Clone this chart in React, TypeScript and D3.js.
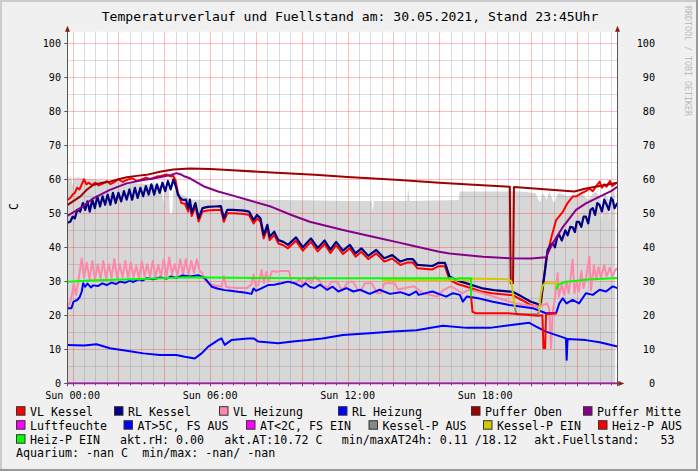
import React from 'react';
import * as d3 from 'd3';

type P = [number, number];

// ---------- tick labels ----------
const timeTicks = [0, 6, 12, 18];
const timeTickLabels = ['Sun 00:00', 'Sun 06:00', 'Sun 12:00', 'Sun 18:00'];
const valueTicks = [0, 10, 20, 30, 40, 50, 60, 70, 80, 90, 100];

// ---------- series (hour, °C) ----------
const fuellstand: P[] = [
  [-0.23, 58], [-0.18, 61], [-0.12, 60], [-0.08, 61.3], [0.0, 58], [0.05, 60.5], [0.3, 60.5], [0.6, 60], [0.9, 60],
  [1.5, 59.5], [2.5, 59], [3.5, 58.5], [3.9, 58], [3.95, 53], [4.05, 58], [4.2, 57.5], [4.25, 50], [4.35, 50],
  [4.4, 57], [4.6, 56], [4.9, 55], [5.2, 54], [6, 54], [8, 54], [10, 53.8], [12, 53.6], [13.05, 53.6], [13.1, 50.5],
  [13.15, 53.6], [14.6, 53.6], [14.65, 57.4], [14.7, 53.6], [16.85, 53.9], [16.9, 56.4], [19.5, 56.4], [20.2, 56],
  [20.4, 53], [20.5, 56], [20.7, 54], [20.8, 56.5], [21.0, 53], [21.2, 56], [21.6, 55], [22.2, 56], [22.5, 54],
  [22.8, 56.5], [23.0, 55], [23.1, 48], [23.2, 56], [23.4, 54], [23.45, 47], [23.5, 56], [23.65, 57], [23.68, 53],
];

const vlKessel: P[] = [
  [-0.23, 53.9], [-0.1, 54.5], [0.0, 55.5], [0.1, 56], [0.2, 57.5], [0.3, 57], [0.4, 58.5], [0.5, 60], [0.6, 58.5],
  [0.7, 59], [0.84, 58.3], [1.0, 59], [1.15, 58.2], [1.34, 58.8], [1.5, 59.5], [1.65, 58.6], [1.85, 59.3], [2.0, 60],
  [2.2, 59.2], [2.36, 59.8], [2.6, 60.3], [2.8, 59.5], [2.94, 59.8], [3.2, 60.5], [3.4, 60], [3.67, 60.8], [3.85, 61],
  [4.1, 61.4], [4.3, 60.8], [4.4, 61], [4.5, 59.5], [4.6, 56], [4.75, 53], [4.9, 52.8], [5.05, 50.5], [5.12, 53],
  [5.2, 49.2], [5.36, 52], [5.5, 47.6], [5.67, 50.5], [5.9, 50.8], [6.2, 51], [6.47, 51], [6.55, 49], [6.6, 47.5],
  [6.75, 50], [7.0, 50], [7.5, 49.8], [7.7, 49.5], [7.9, 47], [8.05, 48.5], [8.2, 47.5], [8.34, 42.6], [8.5, 45.6],
  [8.6, 42.1], [8.8, 43.6], [8.98, 41.1], [9.2, 40.6], [9.4, 39.7], [9.75, 41.9], [10.05, 39], [10.4, 41.6],
  [10.7, 38.8], [11.0, 41], [11.25, 38.3], [11.5, 40.6], [11.8, 38], [12.1, 39.7], [12.35, 37.2], [12.6, 38.7],
  [12.9, 36.5], [13.25, 38.2], [13.6, 35.8], [13.95, 36.7], [14.3, 34.8], [14.6, 35.5], [14.85, 35.5], [15.05, 33.8],
  [15.7, 33.5], [15.95, 34.4], [16.25, 34.4], [16.45, 30.4], [16.8, 29.2], [17.2, 28.4], [17.9, 26.9], [18.5, 26.3],
  [19.2, 25.9], [19.6, 24.5], [20.0, 23], [20.3, 22.5], [20.45, 24], [20.55, 30], [20.66, 36.3], [20.9, 43.1],
  [21.1, 48], [21.4, 50.5], [21.6, 53], [21.82, 54.9], [22.0, 55], [22.2, 55.9], [22.4, 56.5], [22.55, 57.3],
  [22.7, 56.5], [22.85, 58], [23.0, 59.3], [23.1, 57.5], [23.2, 58.5], [23.3, 57.8], [23.45, 59.5], [23.55, 58],
  [23.7, 58.8], [23.77, 59],
];

const rlKessel: P[] = [
  [-0.23, 47.2], [-0.1, 47.5], [0.0, 49], [0.1, 48.5], [0.2, 51], [0.33, 50.5], [0.45, 53], [0.55, 51], [0.65, 53.5],
  [0.75, 50.5], [0.86, 54], [0.97, 51.5], [1.08, 55], [1.2, 52], [1.31, 55], [1.42, 52.5], [1.53, 55.5], [1.65, 52.5],
  [1.76, 56], [1.88, 53], [2.0, 56], [2.12, 53.5], [2.24, 56.5], [2.36, 54], [2.48, 57], [2.6, 54], [2.72, 57.5],
  [2.84, 54.5], [2.96, 57.5], [3.08, 55], [3.2, 58], [3.32, 55.5], [3.44, 58.5], [3.56, 55.5], [3.68, 58.5], [3.8, 56],
  [3.92, 59], [4.04, 56.5], [4.16, 59.5], [4.28, 57], [4.4, 60], [4.5, 58], [4.6, 55.4], [4.7, 54.5], [4.82, 53.9],
  [4.95, 54], [5.05, 51.5], [5.12, 54], [5.2, 50.1], [5.36, 53], [5.5, 48.6], [5.67, 51.5], [5.9, 51.9], [6.2, 52],
  [6.47, 52.1], [6.55, 50], [6.6, 48.5], [6.75, 51], [7.0, 51], [7.5, 50.8], [7.7, 50.5], [7.9, 48], [8.05, 49.5],
  [8.2, 48.5], [8.34, 43.6], [8.5, 46.6], [8.6, 43.1], [8.8, 44.6], [8.98, 42.1], [9.2, 41.6], [9.4, 40.7],
  [9.75, 42.9], [10.05, 40], [10.4, 42.6], [10.7, 39.8], [11.0, 42], [11.25, 39.3], [11.5, 41.6], [11.8, 39],
  [12.1, 40.7], [12.35, 38.2], [12.6, 39.7], [12.9, 37.5], [13.25, 39.2], [13.6, 36.8], [13.95, 37.7], [14.3, 35.8],
  [14.6, 36.5], [14.85, 36.5], [15.05, 34.8], [15.7, 34.5], [15.95, 35.4], [16.25, 35.4], [16.45, 31.4], [16.8, 30.2],
  [17.2, 29.4], [17.9, 27.9], [18.5, 27.3], [19.2, 26.9], [19.6, 25.5], [20.0, 24], [20.3, 23.3], [20.4, 22.8],
  [20.45, 25.3], [20.6, 32.3], [20.73, 39.2], [20.85, 40.5], [20.95, 41.2], [21.05, 40], [21.15, 43], [21.24, 43.6],
  [21.35, 42], [21.5, 45], [21.6, 43.5], [21.72, 46], [21.82, 45.9], [21.92, 44.5], [22.0, 47.5], [22.1, 47.5],
  [22.2, 46], [22.3, 49], [22.4, 49], [22.5, 47], [22.6, 51], [22.7, 51.5], [22.8, 49.5], [22.9, 53], [23.0, 52.4],
  [23.1, 50.5], [23.2, 54], [23.28, 52.9], [23.4, 51], [23.5, 54.5], [23.57, 53.9], [23.65, 51.5], [23.77, 53],
];

const vlHeizung: P[] = [
  [-0.23, 22.5], [-0.1, 24], [0.0, 27], [0.05, 29.4], [0.15, 26], [0.25, 30], [0.4, 36.8], [0.5, 31], [0.62, 35.5],
  [0.74, 30.5], [0.86, 36], [0.98, 30.5], [1.1, 35], [1.22, 30.8], [1.34, 36], [1.46, 31], [1.58, 35], [1.7, 31],
  [1.82, 36.5], [1.94, 31], [2.06, 35], [2.18, 31.2], [2.3, 36], [2.42, 31], [2.54, 35.5], [2.66, 31.2], [2.78, 34.5],
  [2.9, 31], [3.02, 36], [3.14, 31.5], [3.26, 35], [3.38, 31.2], [3.5, 36], [3.62, 31.5], [3.74, 34.8], [3.86, 31.5],
  [3.98, 36.5], [4.1, 31.5], [4.22, 37], [4.34, 32], [4.46, 35], [4.58, 31.8], [4.7, 36.5], [4.82, 32], [4.94, 36.5],
  [5.06, 32], [5.18, 36], [5.3, 32.5], [5.42, 36.5], [5.55, 33], [5.65, 32.5], [5.8, 30], [6.1, 28.9], [6.5, 28.4],
  [6.6, 31.5], [6.7, 28.4], [6.9, 28.2], [7.2, 28], [7.6, 28], [7.8, 29], [7.9, 32], [8.0, 28.5], [8.1, 29],
  [8.25, 33.3], [8.35, 29.5], [8.45, 32.8], [8.55, 30], [8.7, 33], [8.9, 32.8], [9.1, 33], [9.45, 33], [9.55, 29.6],
  [9.75, 29.3], [9.9, 30.8], [10.05, 29], [10.3, 31], [10.4, 29.4], [10.55, 31.4], [10.75, 30.4], [10.95, 28.4],
  [11.15, 28.4], [11.3, 29.9], [11.55, 29.9], [11.7, 27.9], [11.85, 27.9], [12.0, 29.9], [12.25, 29.9], [12.45, 27.4],
  [12.6, 27.4], [12.75, 29.4], [13.05, 29.4], [13.3, 26.5], [13.45, 26.5], [13.6, 29.4], [14.05, 29.4], [14.2, 27.6],
  [14.5, 28], [14.9, 28.5], [15.3, 26.5], [15.9, 25.5], [16.2, 27.5], [16.5, 28.5], [16.7, 27.8], [17.0, 26.5],
  [17.3, 27.5], [17.9, 26.5], [18.6, 25], [19.35, 23.5], [20.37, 22.5], [20.7, 23.5], [20.8, 22], [20.88, 10.3],
  [20.95, 21], [21.05, 25], [21.17, 32.4], [21.22, 25.5], [21.35, 29], [21.45, 26], [21.55, 30], [21.65, 26.5],
  [21.82, 36.3], [21.9, 26.5], [22.0, 30], [22.1, 27], [22.2, 33], [22.3, 28], [22.4, 31], [22.55, 37.2], [22.62, 27.3],
  [22.75, 34.8], [22.85, 30.5], [22.95, 34.2], [23.05, 31], [23.2, 34.8], [23.3, 31.5], [23.45, 34], [23.55, 31.5],
  [23.7, 33.5], [23.77, 33.8],
];

const rlHeizung: P[] = [
  [-0.23, 22.1], [-0.05, 22.1], [0.04, 24], [0.2, 24.5], [0.31, 25.3], [0.4, 27], [0.46, 29.4], [0.55, 28.4],
  [0.65, 29.3], [0.8, 28.2], [0.9, 28.8], [1.1, 28.6], [1.3, 29.4], [1.49, 28.9], [1.7, 29.6], [1.9, 29.2], [2.07, 29.9],
  [2.3, 29.6], [2.5, 30.2], [2.65, 29.8], [2.9, 30.6], [3.05, 30.2], [3.23, 30.9], [3.5, 30.6], [3.81, 31.1], [4.1, 30.8],
  [4.3, 31.4], [4.53, 31], [4.8, 31.7], [5.12, 31.4], [5.48, 31.8], [5.77, 30.9], [6.07, 28.4], [6.35, 27.8],
  [6.64, 27.4], [6.9, 27.2], [7.22, 26.9], [7.5, 26.7], [7.81, 26.3], [7.9, 27.9], [8.0, 27.2], [8.24, 27.9],
  [8.53, 28.9], [8.8, 29], [9.11, 29.4], [9.4, 29.9], [9.7, 29.4], [9.99, 28.4], [10.17, 29.4], [10.35, 28.4],
  [10.55, 28], [10.8, 29], [11.1, 27.5], [11.35, 28.4], [11.6, 27], [11.95, 28], [12.25, 27], [12.55, 27.5],
  [12.96, 26.3], [13.4, 27.5], [13.85, 26.3], [14.3, 26.8], [14.7, 25.9], [15.0, 27], [15.1, 26], [15.7, 27],
  [16.3, 25.5], [16.6, 26.5], [16.9, 26], [17.03, 24], [17.2, 25.5], [17.7, 25], [18.34, 24], [19.06, 23],
  [20.08, 22.1], [20.66, 20.6], [21.1, 20.6], [21.24, 23.5], [21.39, 25], [21.55, 23.5], [21.82, 24.5], [22.1, 23.5],
  [22.4, 26.5], [22.7, 26], [23.0, 27.5], [23.28, 27], [23.57, 28.5], [23.77, 28],
];

const pufferOben: P[] = [
  [-0.23, 52.4], [0.33, 54.9], [0.62, 56.9], [0.9, 58.3], [1.3, 59], [1.63, 59.3], [2.0, 60], [2.36, 60.6], [2.8, 61],
  [3.23, 61.3], [3.81, 62.2], [4.39, 62.9], [5.12, 63.2], [6.0, 63], [6.79, 62.7], [8.68, 62], [10.57, 61.3],
  [12.0, 60.7], [14.27, 59.8], [16.0, 59], [17.5, 58.4], [19.08, 57.8], [19.12, 29.4], [19.22, 29.4], [19.26, 57.7],
  [21.9, 56.4], [22.4, 57.3], [23.0, 58], [23.77, 59],
];

const pufferMitte: P[] = [
  [-0.23, 49.2], [0.33, 51.5], [0.9, 54.4], [1.63, 56.9], [2.36, 58.8], [3.09, 59.8], [3.81, 60.6], [4.3, 61.3],
  [4.53, 61.8], [4.7, 61.5], [4.9, 60.8], [5.12, 60.3], [5.77, 57.8], [6.35, 56.4], [7.0, 55.2], [7.66, 53.9],
  [8.68, 51.9], [9.55, 49.5], [10.35, 47.5], [11.8, 45.1], [13.25, 42.9], [14.3, 41.3], [14.7, 40.7], [16.0, 38.7],
  [16.45, 38.2], [17.9, 37.2], [19.06, 36.8], [20.0, 36.7], [20.66, 37.1], [20.95, 41.2], [21.4, 46], [21.97, 51],
  [22.4, 52.9], [23.0, 54.9], [23.5, 56.5], [23.77, 57.8],
];

const luftfeuchte: P[] = [[-0.23, 0], [23.77, 0]];

const atAussen: P[] = [
  [-0.23, 11.3], [0.5, 11.1], [1.05, 11.5], [1.63, 10.3], [2.36, 9.6], [3.09, 8.8], [3.81, 8.3], [4.53, 8.3],
  [4.9, 7.8], [5.33, 7.3], [5.63, 8.8], [5.92, 10.8], [6.35, 12.7], [6.5, 13.2], [6.64, 11.3], [6.93, 12.7],
  [7.66, 13.2], [7.9, 13.2], [8.1, 12.3], [8.97, 11.8], [9.6, 12.3], [10.28, 12.7], [10.9, 13.2], [11.8, 14.2],
  [12.96, 14.7], [13.98, 15.2], [15.0, 15.6], [16.16, 16.9], [17.2, 16.3], [18.2, 16.3], [19.06, 17.1], [19.93, 17.8],
  [20.23, 16.7], [20.66, 15.2], [21.53, 13.2], [21.56, 6.9], [21.6, 13], [22.4, 12.7], [23.0, 12.1], [23.77, 10.8],
];

const kesselPEin1: P[] = [
  [13.5, 30.3], [17.3, 30.4], [17.4, 30.8], [19.0, 30.6], [19.15, 30], [19.22, 26], [19.3, 22.3],
];
const kesselPAus: P[] = [[19.3, 22.3], [19.38, 20.2], [20.3, 20.4], [20.36, 21]];
const kesselPEin2: P[] = [[20.36, 21], [20.42, 25.5], [20.5, 28.5], [20.6, 29.4], [21.1, 29.4], [21.15, 28]];

const heizPAus: P[] = [
  [17.39, 25.5], [17.45, 21], [17.6, 20.6], [19.0, 20.6], [20.3, 19.9], [20.5, 20], [20.55, 10.3], [20.62, 10.3],
  [20.66, 20.3], [21.12, 20.6],
];
const heizPEin1: P[] = [
  [-0.23, 29.9], [1, 30.3], [3, 30.7], [5, 31.2], [8, 31], [11, 30.9], [14, 30.9], [16.6, 30.9], [16.7, 30.4],
  [16.8, 30.9], [17.39, 30.9], [17.39, 25.5],
];
const heizPEin2: P[] = [[21.12, 27.6], [21.18, 29], [21.5, 29.8], [22.5, 30.5], [23.77, 31]];

// ---------- legend ----------
const legendNames = [
  ['VL Kessel', 'RL Kessel', 'VL Heizung', 'RL Heizung', 'Puffer Oben', 'Puffer Mitte'],
  ['Luftfeuchte', 'AT>5C, FS AUS', 'AT<2C, FS EIN', 'Kessel-P AUS', 'Kessel-P EIN', 'Heiz-P AUS'],
  ['Heiz-P EIN'],
];
const legendColors = [
  ['#FF0000', '#000080', '#FF88AA', '#0000FF', '#A00000', '#880088'],
  ['#FF00FF', '#0000FF', '#FF00FF', '#888888', '#CCCC00', '#FF0000'],
  ['#00FF00'],
];
const infoTexts = ['akt.rH: 0.00', 'akt.AT:10.72 C', 'min/maxAT24h: 0.11 /18.12', 'akt.Fuellstand:   53'];
const aquariumText = 'Aquarium: -nan C  min/max: -nan/ -nan';
const titleText = 'Temperaturverlauf und Fuellstand am: 30.05.2021, Stand 23:45Uhr';

// ---------- layout ----------
const W = 698, H = 471;
const PL = 67.3, PR = 617.3, PT = 31.7, PB = 383.3;
const legendBoxX = [
  [16, 114, 219, 338, 471, 583],
  [16, 123.5, 246, 368.5, 483, 598],
  [16],
];
const legendBaseY = [415.7, 429.7, 443.7];
const infoX = [120, 224.3, 341.7, 534.3];
const FONT = '"DejaVu Sans Mono", monospace';

export default function App() {
  const x = d3.scaleLinear().domain([-0.23, 23.77]).range([PL, PR]);
  const y = d3.scaleLinear().domain([0, 103.4]).range([PB, PT]);
  const line = d3.line<P>().x(d => x(d[0])).y(d => y(d[1]));
  const area = d3.area<P>().x(d => x(d[0])).y0(y(0)).y1(d => y(d[1]));

  const minorV = d3.range(0, 23.76, 0.5).filter(t => Math.abs(t % 2) > 0.01);
  const majorV = d3.range(0, 23, 2);
  const minorH = d3.range(5, 101, 10);
  const majorH = d3.range(10, 101, 10);
  const px = (v: number) => Math.round(v) + 0.5;

  const series: { d: P[]; c: string; w: number }[] = [
    { d: vlKessel, c: '#FF0000', w: 2 },
    { d: rlKessel, c: '#000080', w: 2.2 },
    { d: vlHeizung, c: '#FF88AA', w: 2 },
    { d: rlHeizung, c: '#0000FF', w: 2 },
    { d: pufferOben, c: '#A00000', w: 2 },
    { d: pufferMitte, c: '#880088', w: 2 },
    { d: luftfeuchte, c: '#FF00FF', w: 2 },
    { d: atAussen, c: '#0000FF', w: 2 },
    { d: kesselPAus, c: '#888888', w: 2 },
    { d: kesselPEin1, c: '#CCCC00', w: 2 },
    { d: kesselPEin2, c: '#CCCC00', w: 2 },
    { d: heizPAus, c: '#FF0000', w: 2 },
    { d: heizPEin1, c: '#00FF00', w: 2 },
    { d: heizPEin2, c: '#00FF00', w: 2 },
  ];

  const axisColor = '#555555';
  const arrowColor = '#8B1A1A';

  return (
    <svg width={W} height={H} style={{ position: 'absolute', left: 0, top: 0 }} xmlns="http://www.w3.org/2000/svg">
      <rect x={0} y={0} width={W} height={H} fill="#F0F0F0" />
      {/* frame shading */}
      <rect x={0} y={0} width={W} height={2} fill="#CBCBCB" />
      <rect x={0} y={0} width={2} height={H} fill="#CBCBCB" />
      <rect x={0} y={H - 2} width={W} height={2} fill="#999999" />
      <rect x={W - 2} y={0} width={2} height={H} fill="#999999" />

      <text x={350} y={21} textAnchor="middle" fontFamily={FONT} fontSize={13.1} fill="#000">{titleText}</text>
      <text transform={`translate(684.5,6) rotate(90)`} fontFamily={FONT} fontSize={8.3} fill="#BBBBBB">RRDTOOL / TOBI OETIKER</text>

      <rect x={PL} y={PT} width={PR - PL} height={PB - PT} fill="#FFFFFF" />
      <path d={area(fuellstand) || ''} fill="#D7D7D7" />

      {/* grid */}
      {minorV.map(t => (
        <line key={'mv' + t} x1={px(x(t))} x2={px(x(t))} y1={PT} y2={PB} stroke="rgba(128,128,128,0.28)" strokeWidth={1} />
      ))}
      {minorH.map(v => (
        <line key={'mh' + v} x1={PL} x2={PR} y1={px(y(v))} y2={px(y(v))} stroke="rgba(128,128,128,0.28)" strokeWidth={1} />
      ))}
      {majorV.map(t => (
        <line key={'Mv' + t} x1={px(x(t))} x2={px(x(t))} y1={PT} y2={PB} stroke="rgba(255,0,0,0.25)" strokeWidth={1} />
      ))}
      {majorH.map(v => (
        <line key={'Mh' + v} x1={PL} x2={PR} y1={px(y(v))} y2={px(y(v))} stroke="rgba(255,0,0,0.25)" strokeWidth={1} />
      ))}

      {/* data lines */}
      {series.map((s, i) => (
        <path key={'s' + i} d={line(s.d) || ''} fill="none" stroke={s.c} strokeWidth={s.w} strokeLinejoin="round" />
      ))}

      {/* axes */}
      <line x1={px(PL)} x2={px(PL)} y1={PT - 2} y2={PB + 3} stroke={axisColor} strokeWidth={1} />
      <line x1={px(PR)} x2={px(PR)} y1={PT - 2} y2={PB + 3} stroke={axisColor} strokeWidth={1} />
      <line x1={PL - 3} x2={PR + 2} y1={px(PB)} y2={px(PB)} stroke={axisColor} strokeWidth={1} />
      <path d={`M${px(PL)},${PT - 6} L${px(PL) - 2.5},${PT} L${px(PL) + 2.5},${PT} Z`} fill={arrowColor} />
      <path d={`M${px(PR)},${PT - 6} L${px(PR) - 2.5},${PT} L${px(PR) + 2.5},${PT} Z`} fill={arrowColor} />
      <path d={`M${PR + 7},${px(PB)} L${PR + 1},${px(PB) - 2.5} L${PR + 1},${px(PB) + 2.5} Z`} fill={arrowColor} />

      {/* ticks */}
      {d3.range(0, 23.76, 0.5).map(t => (
        <line key={'xt' + t} x1={px(x(t))} x2={px(x(t))} y1={PB} y2={PB + (Math.abs(t % 2) < 0.01 ? 3 : 2)} stroke={axisColor} strokeWidth={1} />
      ))}
      {valueTicks.map(v => (
        <line key={'yt' + v} x1={PL - 3} x2={PL} y1={px(y(v))} y2={px(y(v))} stroke={axisColor} strokeWidth={1} />
      ))}

      {/* tick labels */}
      {valueTicks.map(v => (
        <text key={'yl' + v} x={61} y={y(v) + 3.7} textAnchor="end" fontFamily={FONT} fontSize={10.15} fill="#000">{v}</text>
      ))}
      {valueTicks.map(v => (
        <text key={'yr' + v} x={655} y={y(v) + 3.7} textAnchor="end" fontFamily={FONT} fontSize={10.15} fill="#000">{v}</text>
      ))}
      {timeTicks.map((t, i) => (
        <text key={'xl' + t} x={x(t)} y={398.5} textAnchor="middle" fontFamily={FONT} fontSize={10.15} fill="#000" style={{ whiteSpace: 'pre' }}>{timeTickLabels[i]}</text>
      ))}
      <text transform="translate(17.5,206.5) rotate(-90)" textAnchor="middle" fontFamily={FONT} fontSize={11.65} fill="#000">C</text>

      {/* legend */}
      {legendNames.map((row, r) =>
        row.map((name, i) => (
          <g key={'lg' + r + '-' + i}>
            <rect x={legendBoxX[r][i] + 0.5} y={legendBaseY[r] - 9} width={8.5} height={8.5} fill={legendColors[r][i]} stroke="#333" strokeWidth={1} />
            <text x={legendBoxX[r][i] + 14} y={legendBaseY[r]} fontFamily={FONT} fontSize={11.65} fill="#000" style={{ whiteSpace: 'pre' }}>{name}</text>
          </g>
        ))
      )}
      {infoTexts.map((t, i) => (
        <text key={'inf' + i} x={infoX[i]} y={legendBaseY[2]} fontFamily={FONT} fontSize={11.65} fill="#000" style={{ whiteSpace: 'pre' }}>{t}</text>
      ))}
      <text x={16} y={456.9} fontFamily={FONT} fontSize={11.65} fill="#000" style={{ whiteSpace: 'pre' }}>{aquariumText}</text>
    </svg>
  );
}
